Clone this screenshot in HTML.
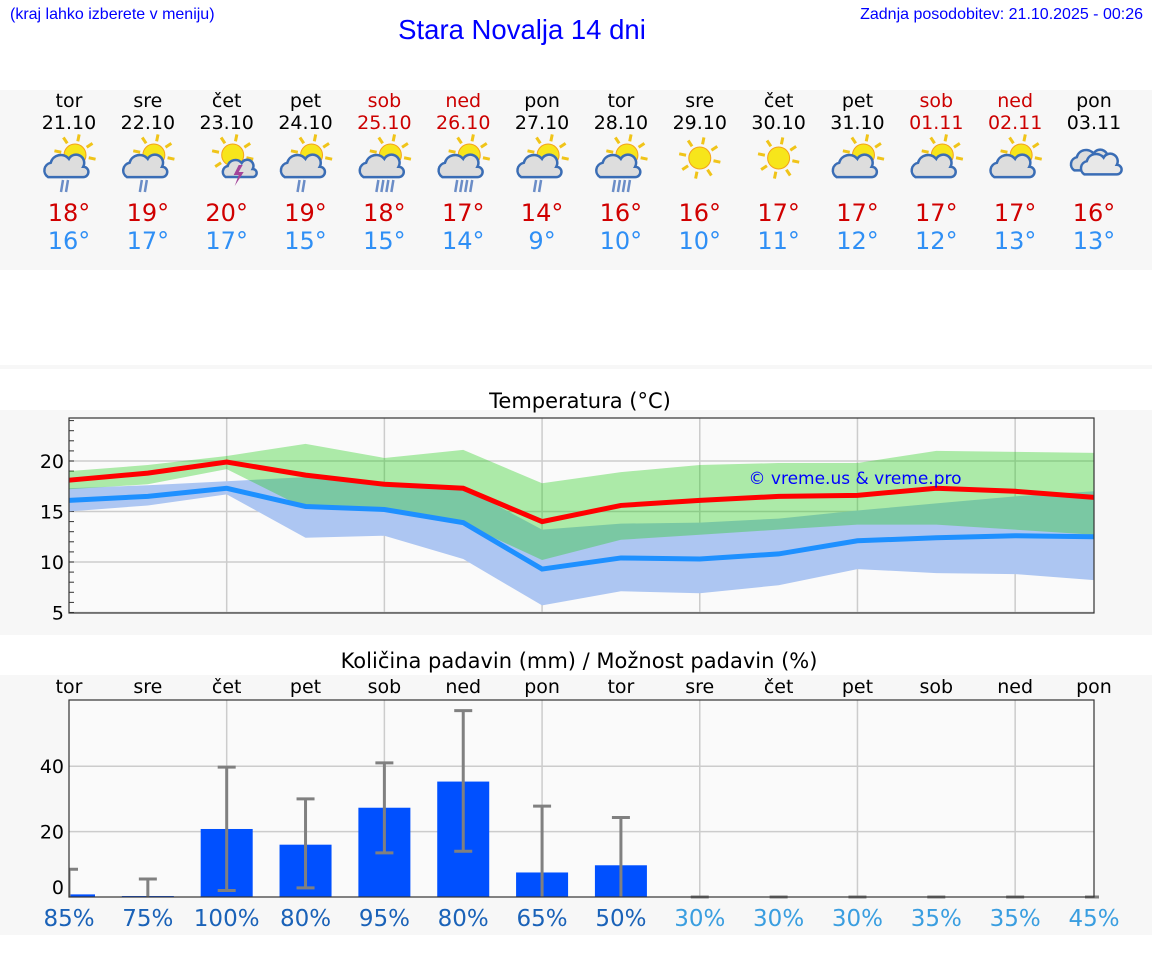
<!DOCTYPE html>
<html><head><meta charset="utf-8"><style>
body{margin:0;width:1152px;height:975px;background:#fff;font-family:"DejaVu Sans","Liberation Sans",sans-serif;overflow:hidden;position:relative}
.abs{position:absolute}
</style></head><body>
<div class="abs" style="left:10px;top:6px;font-size:16px;color:#00f;font-family:'Liberation Sans',sans-serif">(kraj lahko izberete v meniju)</div>
<div class="abs" style="left:0;width:1044px;top:14px;text-align:center;font-size:27.5px;color:#00f;font-family:'Liberation Sans',sans-serif">Stara Novalja 14 dni</div>
<div class="abs" style="right:9px;top:6px;font-size:16px;color:#00f;font-family:'Liberation Sans',sans-serif">Zadnja posodobitev: 21.10.2025 - 00:26</div>
<svg class="abs" style="left:0;top:0" width="1152" height="975" id="svg">
<rect x="0" y="90" width="1152" height="180" fill="#f7f7f7"/>
<rect x="0" y="365" width="1152" height="4" fill="#f7f7f7"/>
<rect x="0" y="410" width="1152" height="225" fill="#f7f7f7"/>
<rect x="0" y="675" width="1152" height="260" fill="#f7f7f7"/>
<text x="580" y="408" font-size="21" text-anchor="middle" font-family="DejaVu Sans,sans-serif">Temperatura (°C)</text>
<text x="579" y="668" font-size="21" text-anchor="middle" font-family="DejaVu Sans,sans-serif">Količina padavin (mm) / Možnost padavin (%)</text>
<g id="topg"></g><g id="temp"></g><g id="prec"></g>
</svg>
<script>
const days=["tor","sre","čet","pet","sob","ned","pon","tor","sre","čet","pet","sob","ned","pon"];
const dates=["21.10","22.10","23.10","24.10","25.10","26.10","27.10","28.10","29.10","30.10","31.10","01.11","02.11","03.11"];
const weekend=[0,0,0,0,1,1,0,0,0,0,0,1,1,0];
const icons=["rain","rain","storm","rain","rain","rain","rain","rain","sun","sun","cloud","cloud","cloud","overcast"];
const hiLbl=[18,19,20,19,18,17,14,16,16,17,17,17,17,16];
const loLbl=[16,17,17,15,15,14,9,10,10,11,12,12,13,13];
const tMax=[18.1,18.8,19.9,18.6,17.7,17.3,14.0,15.6,16.1,16.5,16.6,17.3,17.0,16.4];
const tMin=[16.1,16.5,17.3,15.5,15.2,13.9,9.3,10.4,10.3,10.8,12.1,12.4,12.6,12.5];
const gUp=[19.0,19.6,20.5,21.7,20.3,21.1,17.8,18.9,19.6,19.8,19.8,21.0,20.9,20.8];
const gLo=[17.2,17.7,19.2,15.3,15.0,13.8,10.2,12.2,12.7,13.2,13.7,13.7,13.2,12.7];
const bUp=[17.3,17.6,18.0,18.4,17.9,17.4,13.2,13.8,13.9,14.3,15.1,15.8,16.5,17.0];
const bLo=[15.0,15.6,16.7,12.4,12.6,10.3,5.7,7.1,6.9,7.7,9.3,8.9,8.8,8.2];
const rain=[0.8,0.3,20.8,16.0,27.3,35.3,7.5,9.7,0,0,0,0,0,0];
const errLo=[0,0,2,2.8,13.5,14,0,0,0,0,0,0,0,0];
const errHi=[8.5,5.5,39.7,30,41,57,27.8,24.3,0,0,0,0,0,0];
const prob=[85,75,100,80,95,80,65,50,30,30,30,35,35,45];
const tTicks=[5,10,15,20];
const pTicks=[0,20,40];
const NS="http://www.w3.org/2000/svg";
function mk(p,t,a,txt){const e=document.createElementNS(NS,t);for(const k in a)e.setAttribute(k,a[k]);if(txt!==undefined)e.textContent=txt;p.appendChild(e);return e;}
const X=i=>69+i*(1094-69)/13;
const TY=v=>461-(v-20)*10.1;
const PY=v=>897-v*3.27;
const topG=document.getElementById('topg'),temp=document.getElementById('temp'),prec=document.getElementById('prec');
function sun(g,cx,cy,r){for(let k=0;k<8;k++){const a=k*Math.PI/4+0.2;mk(g,'line',{x1:cx+Math.cos(a)*(r+3),y1:cy+Math.sin(a)*(r+3),x2:cx+Math.cos(a)*(r+10),y2:cy+Math.sin(a)*(r+10),stroke:'#f0c419','stroke-width':3});}mk(g,'circle',{cx:cx,cy:cy,r:r,fill:'#f7e51b',stroke:'#f3a21b','stroke-width':1});}
function cloud(g,cx,cy,s,fill){mk(g,'path',{d:`M${cx-13*s} ${cy+7*s} a${6*s} ${6*s} 0 0 1 ${2*s} ${-11*s} a${8*s} ${8*s} 0 0 1 ${14*s} ${-3*s} a${6*s} ${6*s} 0 0 1 ${11*s} ${6*s} a${4*s} ${4*s} 0 0 1 0 ${8*s} z`,fill:fill,stroke:'#3a6db5','stroke-width':2.5});}
for(let i=0;i<14;i++){const x=X(i);
 let t=mk(topG,'text',{x:x,y:107,'font-size':19,'text-anchor':'middle',fill:weekend[i]?'#c00':'#000'},days[i]);
 
 
 t=mk(topG,'text',{x:x,y:129,'font-size':19,'text-anchor':'middle',fill:weekend[i]?'#c00':'#000'},dates[i]);
 
 
 const g=mk(topG,'g',{});
 
 
 const ic=icons[i];
 if(ic==='overcast'){cloud(g,x-4,162,1.2,'#ddd');cloud(g,x+6,166,1.2,'#e8e8e8');}
 else if(ic==='sun'){sun(g,x,158,11);}
 else {sun(g,x+6,155,11);
  if(ic==='storm'){cloud(g,x+12,170,1,'#ddd');mk(g,'path',{d:`M${x+12} 165 l-5 10 h5 l-4 11 l9 -14 h-5 l4 -7z`,fill:'#a3449a'});}
  else {cloud(g,x-4,168,1.3,'#ddd');if(ic==='rain')for(let k=0;k<(i==4||i==5||i==7?4:2);k++)mk(g,'line',{x1:x-6+k*5,y1:180,x2:x-8+k*5,y2:192,stroke:'#6b8dc7','stroke-width':2.5});}}
 t=mk(topG,'text',{x:x,y:221,'font-size':24,'text-anchor':'middle',fill:'#d00000'},hiLbl[i]+'°');
 
 
 t=mk(topG,'text',{x:x,y:249,'font-size':24,'text-anchor':'middle',fill:'#2f8ff5'},loLbl[i]+'°');
 
 
}
mk(temp,'rect',{x:69,y:418,width:1025,height:195,fill:'#fafafa'});
for(let i=2;i<13;i+=2)mk(temp,'line',{x1:X(i),x2:X(i),y1:418,y2:613,stroke:'#ccc','stroke-width':1.5});
for(const v of tTicks){mk(temp,'line',{x1:69,x2:1094,y1:TY(v),y2:TY(v),stroke:'#ccc','stroke-width':1.5});
 const t=mk(temp,'text',{x:64,y:TY(v)+7,'font-size':19,'text-anchor':'end'},v);
 
 }
for(let v=5;v<=24;v++)mk(temp,'line',{x1:69,x2:74,y1:TY(v),y2:TY(v),stroke:'#333','stroke-width':1});
function band(up,lo,fill,op,name){let d='M'+up.map((v,i)=>X(i)+' '+TY(v)).join(' L')+' L'+lo.map((v,i)=>X(i)+' '+TY(v)).reverse().join(' L')+'Z';
 const p=mk(temp,'path',{d:d,fill:fill,'fill-opacity':op});
 
 }
band(bUp,bLo,'#adc6f2',1,'min-temp-range');
band(gUp,gLo,'rgb(34,206,23)',0.36,'max-temp-range');
function line(a,c,name){const p=mk(temp,'polyline',{points:a.map((v,i)=>X(i)+','+TY(v)).join(' '),fill:'none',stroke:c,'stroke-width':5});
 
 }
line(tMin,'#1e90ff','min-temp-line');line(tMax,'#f00','max-temp-line');
mk(temp,'rect',{x:69,y:418,width:1025,height:195,fill:'none',stroke:'#333','stroke-width':1.2});
let w=mk(temp,'text',{x:855,y:484,'font-size':17,'text-anchor':'middle',fill:'#00f'},'© vreme.us & vreme.pro');


mk(prec,'rect',{x:69,y:700,width:1025,height:197,fill:'#fafafa'});
for(let i=2;i<13;i+=2)mk(prec,'line',{x1:X(i),x2:X(i),y1:700,y2:897,stroke:'#ccc','stroke-width':1.5});
for(const v of pTicks){if(v>0)mk(prec,'line',{x1:69,x2:1094,y1:PY(v),y2:PY(v),stroke:'#ccc','stroke-width':1.5});
 const t=mk(prec,'text',{x:64,y:PY(v)+(v?7:-3),'font-size':19,'text-anchor':'end'},v);
 
 }
const cp=mk(prec,'clipPath',{id:'pc'});
mk(cp,'rect',{x:69,y:690,width:1030,height:210});
const pg=mk(prec,'g',{'clip-path':'url(#pc)'});
for(let i=0;i<14;i++){const x=X(i);
 let t=mk(prec,'text',{x:x,y:693,'font-size':19,'text-anchor':'middle'},days[i]);
 
 
 if(rain[i]>0){const b=mk(pg,'rect',{x:x-26,y:PY(rain[i]),width:52,height:PY(0)-PY(rain[i]),fill:'#0050ff'});
  
  }
 const e=mk(pg,'g',{stroke:'#808080','stroke-width':3});
 
 
 mk(e,'line',{x1:x,x2:x,y1:PY(errLo[i]),y2:PY(errHi[i])});
 mk(e,'line',{x1:x-9,x2:x+9,y1:PY(errHi[i]),y2:PY(errHi[i])});
 if(errLo[i]>0)mk(e,'line',{x1:x-9,x2:x+9,y1:PY(errLo[i]),y2:PY(errLo[i])});
 t=mk(prec,'text',{x:x,y:926,'font-size':23,'text-anchor':'middle',fill:prob[i]>=50?'#1a62b8':'#3a9ee0'},prob[i]+'%');
 
 
}
mk(prec,'rect',{x:69,y:700,width:1025,height:197,fill:'none',stroke:'#333','stroke-width':1.2});
</script>
</body></html>
